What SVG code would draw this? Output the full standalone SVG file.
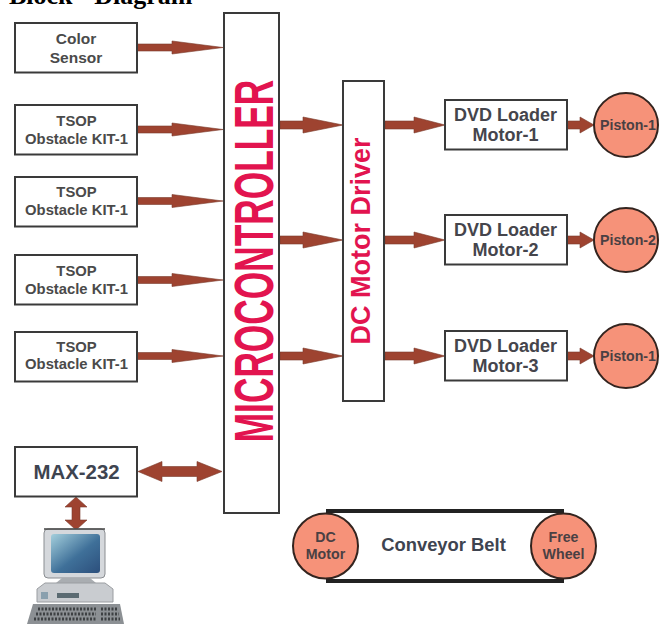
<svg xmlns="http://www.w3.org/2000/svg" width="659" height="624" viewBox="0 0 659 624">
<defs>
<linearGradient id="scr" x1="0" y1="0" x2="1" y2="1"><stop offset="0" stop-color="#a4cfdc"/><stop offset=".55" stop-color="#3f7099"/><stop offset="1" stop-color="#2c4f7c"/></linearGradient>
<path id="ar" d="M0,-3.500 H35 V-6.500 L86,0 L35,6.500 V3.500 H0 Z"/>
<path id="ar2" d="M0,-4 H23 V-8 L63,0 L23,8 V4 H0 Z"/>
<path id="ar3" d="M0,-4 H29 V-8 L60,0 L29,8 V4 H0 Z"/>
<path id="ar4" d="M0,-4 H13 V-8 L27,0 L13,8 V4 H0 Z"/>
</defs>
<style>
text{font-family:"Liberation Sans",Arial,sans-serif;font-weight:700;text-anchor:middle}
.b{fill:#fff;stroke:#3a3a3a;stroke-width:2}
.c{fill:#f69279;stroke:#33241f;stroke-width:2}
.t{fill:#4a4a4a;font-size:14.800px}
.s{fill:#4a4a4a;font-size:15.500px}
.d{fill:#45454c;font-size:18px}
.p{fill:#4a4043;font-size:14.200px}
.m{fill:#e2144f}
#conn path,#conn use{fill:#9e4330;stroke:#7a3b2c;stroke-width:.6}
</style>
<text x="9" y="4" style="font-family:'Liberation Serif',serif;font-size:26px;fill:#000;text-anchor:start">Block - Diagram</text>
<g id="conn">
<use href="#ar" x="137" y="47.500"/>
<use href="#ar" x="137" y="129.500"/>
<use href="#ar" x="137" y="201"/>
<use href="#ar" x="137" y="280"/>
<use href="#ar" x="137" y="356"/>
<use href="#ar2" x="280" y="125"/>
<use href="#ar2" x="280" y="240"/>
<use href="#ar2" x="280" y="356"/>
<use href="#ar3" x="385" y="125"/>
<use href="#ar3" x="385" y="240"/>
<use href="#ar3" x="385" y="356"/>
<use href="#ar4" x="567" y="125"/>
<use href="#ar4" x="567" y="240"/>
<use href="#ar4" x="567" y="356"/>
<path d="M138,471.500 L162,461.500 V466.500 H197 V461.500 L222,471.500 L197,481.500 V476.500 H162 V481.500 Z"/>
<path d="M76,497 L87,507 H80 V520 H87 L76,530 L65,520 H72 V507 H65 Z"/>
</g>
<g id="color-sensor"><rect class="b" x="15" y="23" width="122" height="49.500"/><text class="s" x="76" y="44">Color</text><text class="s" x="76" y="62.500">Sensor</text></g>
<g id="tsop-1"><rect class="b" x="15" y="105" width="122" height="49.500"/><text class="t" x="76.500" y="126">TSOP</text><text class="t" x="76.500" y="144">Obstacle KIT-1</text></g>
<g id="tsop-2"><rect class="b" x="15" y="177" width="122" height="49.500"/><text class="t" x="76.500" y="197">TSOP</text><text class="t" x="76.500" y="215">Obstacle KIT-1</text></g>
<g id="tsop-3"><rect class="b" x="15" y="255" width="122" height="49.500"/><text class="t" x="76.500" y="276">TSOP</text><text class="t" x="76.500" y="294">Obstacle KIT-1</text></g>
<g id="tsop-4"><rect class="b" x="15" y="332" width="122" height="49.500"/><text class="t" x="76.500" y="352">TSOP</text><text class="t" x="76.500" y="369">Obstacle KIT-1</text></g>
<g id="microcontroller"><rect class="b" x="224" y="13" width="55" height="500"/><text class="m" transform="translate(273,261) rotate(-90) scale(.63,1)" font-size="56">MICROCONTROLLER</text></g>
<g id="motor-driver"><rect class="b" x="343" y="81" width="41" height="320"/><text class="m" transform="translate(370,241) rotate(-90)" font-size="27">DC Motor Driver</text></g>
<g id="dvd-1"><rect class="b" x="445" y="100" width="122" height="49.500"/><text class="d" x="505.500" y="121">DVD Loader</text><text class="d" x="505.500" y="141">Motor-1</text></g>
<g id="dvd-2"><rect class="b" x="445" y="215" width="122" height="49.500"/><text class="d" x="505.500" y="236">DVD Loader</text><text class="d" x="505.500" y="256">Motor-2</text></g>
<g id="dvd-3"><rect class="b" x="445" y="331" width="122" height="49.500"/><text class="d" x="505.500" y="352">DVD Loader</text><text class="d" x="505.500" y="372">Motor-3</text></g>
<g id="piston-1"><circle class="c" cx="626" cy="125" r="32"/><text class="p" x="628" y="130">Piston-1</text></g>
<g id="piston-2"><circle class="c" cx="626" cy="240" r="32"/><text class="p" x="628" y="245">Piston-2</text></g>
<g id="piston-3"><circle class="c" cx="626" cy="356" r="32"/><text class="p" x="628" y="361">Piston-1</text></g>
<g id="max232"><rect class="b" x="15" y="447" width="122" height="49.500"/><text x="76.500" y="479" font-size="20.400" fill="#3e4450">MAX-232</text></g>
<g id="computer">
<rect x="44" y="529" width="61" height="49" rx="4" fill="#d5d8dc" stroke="#8a8d91"/>
<path d="M44,529 H105" stroke="#444" stroke-width="1.500"/>
<rect x="51" y="534" width="49" height="39" rx="3" fill="url(#scr)"/>
<path d="M62,578 H90 L96,583 H56 Z" fill="#a9adb1"/>
<path d="M45,583 H105 L113,589 V602 H37 V589 Z" fill="#c9ccd0" stroke="#9a9da1"/>
<rect x="57" y="593" width="22" height="5" fill="#5b6b72"/>
<rect x="41" y="592" width="7" height="7" fill="#8aa0ae"/>
<path d="M33,604 H120 L124,624 H27 Z" fill="#8c9094"/>
<path d="M38,609 H96 M36,614 H96 M34,619 H96 M101,609 H118 M101,614 H119 M101,619 H120" stroke="#3d4043" stroke-width="3" stroke-dasharray="2 1.500" fill="none"/>
</g>
<g id="conveyor">
<path d="M326,511 H564 M326,581 H564" stroke="#222" stroke-width="4" fill="none"/>
<text x="443.500" y="551" font-size="18.400" fill="#3e4450">Conveyor Belt</text>
</g>
<g id="dc-motor"><circle class="c" cx="325.500" cy="546" r="32.500"/><text class="p" x="325.500" y="542">DC</text><text class="p" x="325.500" y="559">Motor</text></g>
<g id="free-wheel"><circle class="c" cx="563.500" cy="546" r="32.500"/><text class="p" x="563.500" y="542">Free</text><text class="p" x="563.500" y="559">Wheel</text></g>
</svg>
